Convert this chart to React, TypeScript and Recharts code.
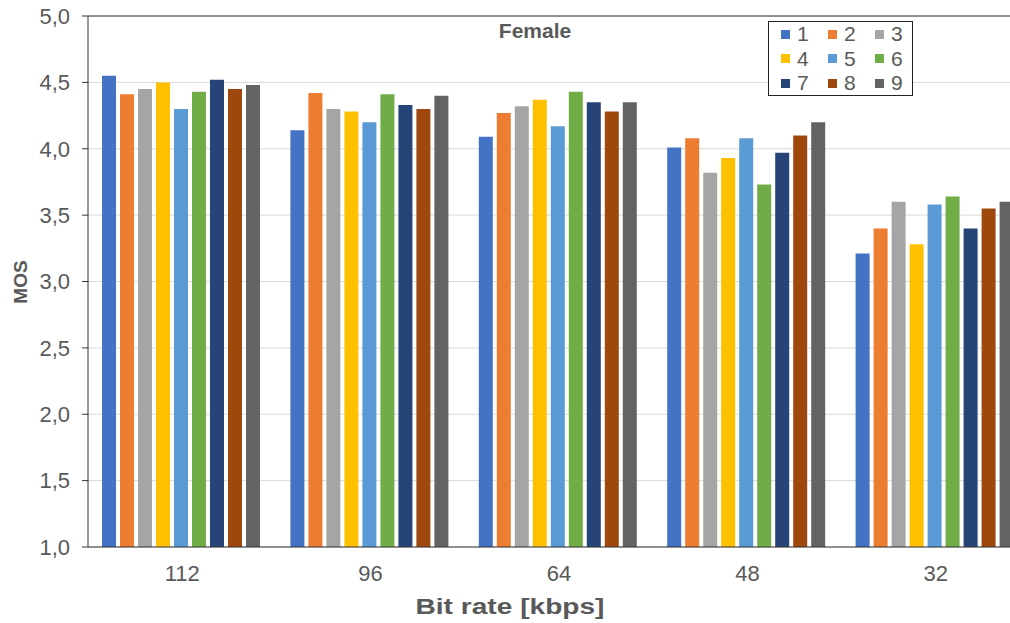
import React from 'react';
import { BarChart, Bar, XAxis, YAxis, CartesianGrid, ReferenceLine } from 'recharts';

const bitRates = ['112', '96', '64', '48', '32'];

const s1 = [4.55, 4.14, 4.09, 4.01, 3.21];
const s2 = [4.41, 4.42, 4.27, 4.08, 3.40];
const s3 = [4.45, 4.30, 4.32, 3.82, 3.60];
const s4 = [4.50, 4.28, 4.37, 3.93, 3.28];
const s5 = [4.30, 4.20, 4.17, 4.08, 3.58];
const s6 = [4.43, 4.41, 4.43, 3.73, 3.64];
const s7 = [4.52, 4.33, 4.35, 3.97, 3.40];
const s8 = [4.45, 4.30, 4.28, 4.10, 3.55];
const s9 = [4.48, 4.40, 4.35, 4.20, 3.60];

const seriesNames = ['1', '2', '3', '4', '5', '6', '7', '8', '9'];
const seriesValues = [s1, s2, s3, s4, s5, s6, s7, s8, s9];
const colors = ['#4472C4', '#ED7D31', '#A5A5A5', '#FFC000', '#5B9BD5', '#70AD47', '#264478', '#9E480E', '#636363'];

const yTicks = [1, 1.5, 2, 2.5, 3, 3.5, 4, 4.5, 5];

const data = bitRates.map((rate, i) => {
  const row: Record<string, string | number> = { rate };
  seriesNames.forEach((name, j) => {
    row[name] = seriesValues[j][i];
  });
  return row;
});

const font = '"Liberation Sans", Arial, sans-serif';
const textColor = '#595959';

// legend box in the upper right, 3 x 3 grid
const LegendBox = () => (
  <div
    style={{
      position: 'absolute',
      left: 768,
      top: 21,
      border: '1px solid #222',
      background: '#fff',
      display: 'grid',
      gridTemplateColumns: 'repeat(3, 47px)',
      gridAutoRows: '24.5px',
      padding: '0 0 0 12px',
      boxSizing: 'border-box',
      width: 145,
      height: 75,
      alignContent: 'center',
      alignItems: 'center',
      fontFamily: font,
      fontSize: 21,
      color: textColor,
    }}
  >
    {seriesNames.map((name, i) => (
      <div key={name} style={{ display: 'flex', alignItems: 'center' }}>
        <span style={{ width: 9, height: 9, background: colors[i], display: 'inline-block', marginRight: 7 }} />
        <span>{name}</span>
      </div>
    ))}
  </div>
);

export default function App() {
  return (
    <div style={{ position: 'absolute', left: 0, top: 0, width: 1010, height: 623, overflow: 'hidden', background: '#fff' }}>
      <BarChart
        width={1030}
        height={623}
        data={data}
        margin={{ top: 16, right: 0, bottom: 0, left: 0 }}
        barCategoryGap={14}
        barGap={4}
      >
        <CartesianGrid vertical={false} stroke="#d9d9d9" />
        <XAxis
          dataKey="rate"
          height={76}
          axisLine={{ stroke: '#333' }}
          tickLine={false}
          tickMargin={12}
          tick={{ fill: textColor, fontSize: 22, fontFamily: font }}
          label={{
            content: () => (
              <text
                x={510}
                y={614}
                textAnchor="middle"
                textLength={189}
                lengthAdjust="spacingAndGlyphs"
                fill={textColor}
                fontSize={22}
                fontWeight="bold"
                fontFamily={font}
              >
                Bit rate [kbps]
              </text>
            ),
          }}
        />
        <YAxis
          width={88}
          domain={[1, 5]}
          ticks={yTicks}
          interval={0}
          allowDataOverflow
          axisLine={{ stroke: '#333' }}
          tickLine={{ stroke: '#333' }}
          tickSize={6}
          tickMargin={12}
          tickFormatter={(v: number) => v.toFixed(1).replace('.', ',')}
          tick={{ fill: textColor, fontSize: 22, fontFamily: font }}
          label={{
            content: () => (
              <text
                x={27}
                y={282}
                transform="rotate(-90 27 282)"
                textAnchor="middle"
                fill={textColor}
                fontSize={19}
                fontWeight="bold"
                fontFamily={font}
              >
                MOS
              </text>
            ),
          }}
        />
        <ReferenceLine y={5} stroke="#333" />
        {seriesNames.map((name, i) => (
          <Bar key={name} dataKey={name} fill={colors[i]} isAnimationActive={false} />
        ))}
      </BarChart>
      <div
        style={{
          position: 'absolute',
          left: 435,
          top: 19,
          width: 200,
          textAlign: 'center',
          fontFamily: font,
          fontWeight: 'bold',
          fontSize: 21,
          color: textColor,
        }}
      >
        Female
      </div>
      <LegendBox />
    </div>
  );
}
